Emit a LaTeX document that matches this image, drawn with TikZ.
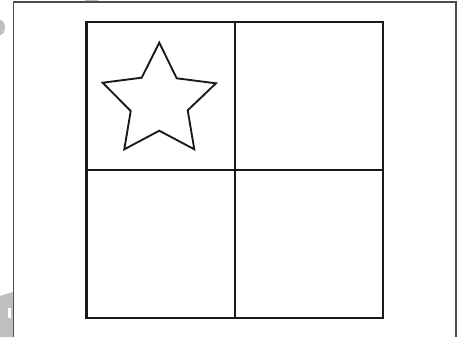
\documentclass[tikz,border=0pt]{standalone}
\begin{document}
\begin{tikzpicture}[x=0.75pt,y=-0.75pt,
  gridline/.style={line width=1.6pt,draw=black!90},
  frameline/.style={line width=1pt,draw=black!70},
  starline/.style={line width=1.4pt,draw=black!90,line join=miter},
  blot/.style={fill=black!25,draw=none}]
\useasboundingbox (0,0) rectangle (467,337);
% scan artefacts
\fill[blot] (0,20) arc[start angle=90,end angle=-90,x radius=5,y radius=-7.5] -- cycle;
\fill[blot] (85,0) rectangle (98,1.5);
\fill[blot] (0,296) -- (13,292) -- (13,337) -- (0,337) -- cycle;
\fill[white] (8,308) rectangle (11,318);
% outer frame
\draw[frameline] (13.5,337) -- (13.5,2) -- (456,2) -- (456,337);
% grid
\coordinate (tl) at (86.5,22);
\coordinate (br) at (383,318);
\draw[gridline] (tl) rectangle (br);
\draw[gridline] (235,22) -- (235,318);
\draw[gridline] (86.5,170) -- (383,170);
% star
\draw[starline] (159.3,42.7) -- (176.7,78.3) -- (216,83.3) -- (187.7,110.3) -- (194.3,149.3)
  -- (159.3,130.7) -- (124.3,149.3) -- (130.7,111) -- (102.7,82.7) -- (141.7,77.7) -- cycle;
\end{tikzpicture}
\end{document}
